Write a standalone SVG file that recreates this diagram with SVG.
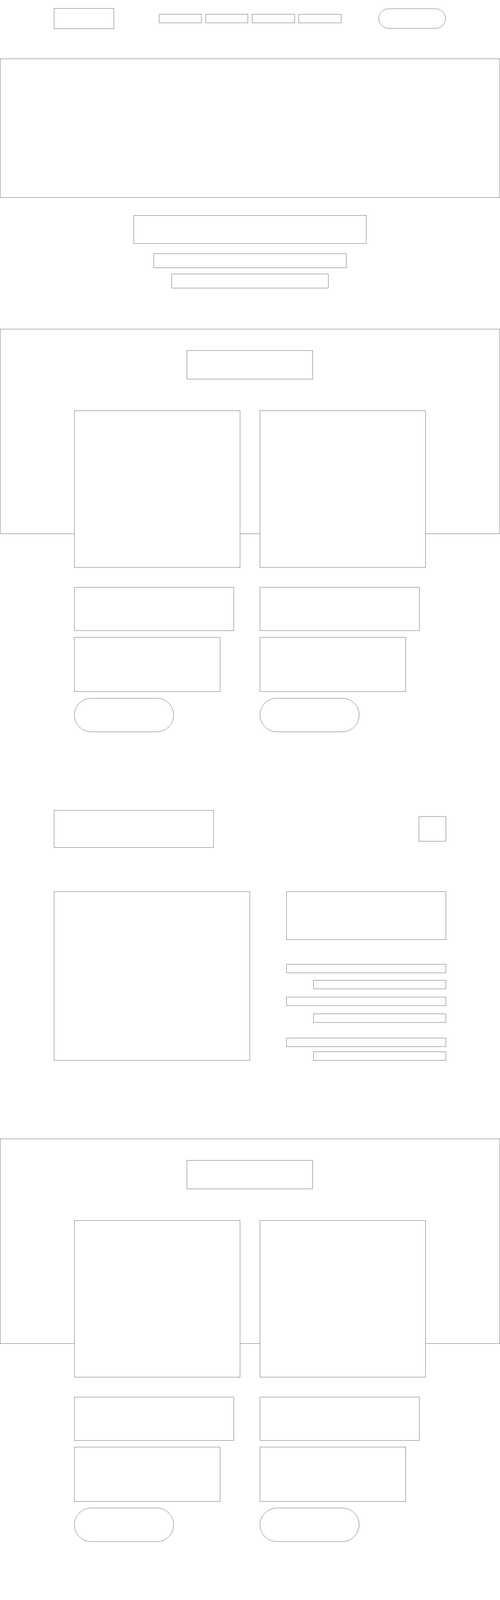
<svg xmlns="http://www.w3.org/2000/svg" width="1280" height="6955" viewBox="0 0 1280 6955">
<style>
.b{fill:#fff;stroke:#6f6f6f;stroke-width:1}
</style>
<rect x="0" y="0" width="1280" height="6955" fill="#fff"/>
<g id="connectors"></g>
<g id="header">
<rect id="logo" class="b" x="138.5" y="21.5" width="153" height="52"/>
<rect id="nav1" class="b" x="407.5" y="36.5" width="108" height="22"/>
<rect id="nav2" class="b" x="526.5" y="36.5" width="108" height="22"/>
<rect id="nav3" class="b" x="645.5" y="36.5" width="109" height="22"/>
<rect id="nav4" class="b" x="764.5" y="36.5" width="109" height="22"/>
<rect id="cta" class="b" x="969.5" y="22.5" width="171" height="50" rx="25"/>
</g>
<g id="hero">
<rect class="b" x="0.5" y="150.5" width="1279" height="355"/>
</g>
<g id="hero-text">
<rect class="b" x="342.5" y="551.5" width="595" height="72"/>
<rect class="b" x="393.5" y="649.5" width="493" height="36"/>
<rect class="b" x="439.5" y="701.5" width="401" height="36"/>
</g>
<g id="section2">
<rect class="b" x="0.5" y="842.5" width="1279" height="524"/>
<rect class="b" x="478.5" y="897.5" width="322" height="73"/>
<rect class="b" x="190.5" y="1051.5" width="424" height="401"/>
<rect class="b" x="665.5" y="1051.5" width="424" height="401"/>
<rect class="b" x="190.5" y="1503.5" width="408" height="111"/>
<rect class="b" x="665.5" y="1503.5" width="408" height="111"/>
<rect class="b" x="190.5" y="1631.5" width="373" height="139"/>
<rect class="b" x="665.5" y="1631.5" width="373" height="139"/>
<rect class="b" x="190.5" y="1787.5" width="254" height="86" rx="43"/>
<rect class="b" x="665.5" y="1787.5" width="254" height="86" rx="43"/>
</g>
<g id="section3">
<rect class="b" x="138.5" y="2074.5" width="408" height="95"/>
<rect class="b" x="1072.5" y="2090.5" width="69" height="63"/>
<rect class="b" x="138.5" y="2282.5" width="501" height="432"/>
<rect class="b" x="733.5" y="2282.5" width="408" height="123"/>
<rect class="b" x="733.5" y="2468.5" width="408" height="22"/>
<rect class="b" x="802.5" y="2509.5" width="339" height="22"/>
<rect class="b" x="733.5" y="2552.5" width="408" height="22"/>
<rect class="b" x="802.5" y="2595.5" width="339" height="22"/>
<rect class="b" x="733.5" y="2657.5" width="408" height="22"/>
<rect class="b" x="802.5" y="2692.5" width="339" height="22"/>
</g>
<g id="section4">
<rect class="b" x="0.5" y="2915.5" width="1279" height="524"/>
<rect class="b" x="478.5" y="2970.5" width="322" height="73"/>
<rect class="b" x="190.5" y="3124.5" width="424" height="401"/>
<rect class="b" x="665.5" y="3124.5" width="424" height="401"/>
<rect class="b" x="190.5" y="3576.5" width="408" height="111"/>
<rect class="b" x="665.5" y="3576.5" width="408" height="111"/>
<rect class="b" x="190.5" y="3704.5" width="373" height="139"/>
<rect class="b" x="665.5" y="3704.5" width="373" height="139"/>
<rect class="b" x="190.5" y="3860.5" width="254" height="86" rx="43"/>
<rect class="b" x="665.5" y="3860.5" width="254" height="86" rx="43"/>
</g>
<g id="section5">
<rect class="b" x="138.5" y="4188.5" width="408" height="95"/>
<rect class="b" x="1072.5" y="4204.5" width="69" height="63"/>
<rect class="b" x="138.5" y="4396.5" width="408" height="123"/>
<rect class="b" x="640.5" y="4396.5" width="501" height="432"/>
<rect class="b" x="138.5" y="4582.5" width="408" height="22"/>
<rect class="b" x="138.5" y="4623.5" width="339" height="22"/>
<rect class="b" x="138.5" y="4666.5" width="408" height="22"/>
<rect class="b" x="138.5" y="4709.5" width="339" height="22"/>
<rect class="b" x="138.5" y="4771.5" width="408" height="22"/>
</g>
<g id="section6">
<rect class="b" x="0.5" y="5029.5" width="1279" height="524"/>
<rect class="b" x="478.5" y="5084.5" width="322" height="73"/>
<rect class="b" x="190.5" y="5238.5" width="424" height="401"/>
<rect class="b" x="665.5" y="5238.5" width="424" height="401"/>
<rect class="b" x="190.5" y="5690.5" width="408" height="111"/>
<rect class="b" x="665.5" y="5690.5" width="408" height="111"/>
<rect class="b" x="190.5" y="5818.5" width="373" height="139"/>
<rect class="b" x="665.5" y="5818.5" width="373" height="139"/>
<rect class="b" x="190.5" y="5974.5" width="254" height="86" rx="43"/>
<rect class="b" x="665.5" y="5974.5" width="254" height="86" rx="43"/>
</g>
<g id="footer">
<rect class="b" x="0.5" y="6261.5" width="1279" height="720"/>
<rect class="b" x="138.5" y="6380.5" width="238" height="72"/>
<rect class="b" x="563.5" y="6396.5" width="192" height="56"/>
<rect class="b" x="818.5" y="6396.5" width="323" height="56"/>
<rect class="b" x="138.5" y="6498.5" width="323" height="153"/>
<rect class="b" x="563.5" y="6498.5" width="153" height="285"/>
<rect class="b" x="818.5" y="6498.5" width="323" height="285"/>
<rect class="b" x="494.5" y="6905.5" width="238" height="24"/>
</g>
</svg>
